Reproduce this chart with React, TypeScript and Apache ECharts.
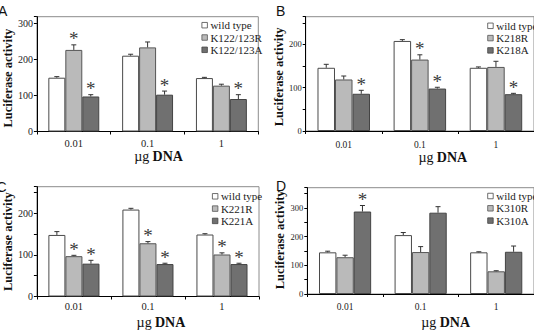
import React, { useEffect, useRef } from 'react';
import * as echarts from 'echarts';

// Plasmid DNA doses shared by every panel
const doseLabels = ['0.01', '0.1', '1'];

// Panel A: K122/123 mutants
const aNames = ['wild type', 'K122/123R', 'K122/123A'];
const aWildType = [149, 210, 148];
const aWildTypeErr = [3, 4, 2];
const aMutR = [226, 233, 127];
const aMutRErr = [14, 15, 4];
const aMutA = [97, 102, 90];
const aMutAErr = [5, 10, 12];
const aSigR = [true, false, false];
const aSigA = [true, true, true];

// Panel B: K218 mutants
const bNames = ['wild type', 'K218R', 'K218A'];
const bWildType = [146, 208, 146];
const bWildTypeErr = [8, 3, 2];
const bMutR = [119, 165, 148];
const bMutRErr = [8, 11, 13];
const bMutA = [86, 98, 85];
const bMutAErr = [8, 3, 2];
const bSigR = [false, true, false];
const bSigA = [true, true, true];

// Panel C: K221 mutants
const cNames = ['wild type', 'K221R', 'K221A'];
const cWildType = [148, 209, 149];
const cWildTypeErr = [8, 3, 2];
const cMutR = [97, 128, 101];
const cMutRErr = [2, 4, 4];
const cMutA = [79, 78, 78];
const cMutAErr = [8, 2, 2];
const cSigR = [true, true, true];
const cSigA = [true, true, true];

// Panel D: K310 mutants
const dNames = ['wild type', 'K310R', 'K310A'];
const dWildType = [145, 205, 145];
const dWildTypeErr = [4, 9, 2];
const dMutR = [128, 146, 79];
const dMutRErr = [7, 19, 2];
const dMutA = [287, 283, 147];
const dMutAErr = [21, 21, 20];
const dSigR = [false, false, false];
const dSigA = [true, false, false];

const noSig = [false, false, false];

const SERIF = '"Liberation Serif", "Times New Roman", serif';
const SANS = '"Liberation Sans", Arial, sans-serif';
const CAT_GAP = 0.31;

const barStyles = [
  { color: '#ffffff', borderColor: '#4a4a4a', borderWidth: 1 },
  { color: '#bababa', borderColor: '#555555', borderWidth: 1 },
  { color: '#707070', borderColor: '#444444', borderWidth: 1 },
];

type PanelData = {
  names: string[];
  values: number[][];
  errors: number[][];
  sig: boolean[][];
};

type PanelLayout = {
  left: number; top: number; width: number; height: number;
  yMax: number; yInterval: number; yTop: number;
  yFont: number; xFont: number; xMargin: number;
  yNameGap: number; yNamePad: number[];
  xNameGap: number; xNameShift: number;
  legendLeft: number; legendTop: number;
  letter: string; letterX: number; letterY: number;
};

const panels: PanelData[] = [
  { names: aNames, values: [aWildType, aMutR, aMutA], errors: [aWildTypeErr, aMutRErr, aMutAErr], sig: [noSig, aSigR, aSigA] },
  { names: bNames, values: [bWildType, bMutR, bMutA], errors: [bWildTypeErr, bMutRErr, bMutAErr], sig: [noSig, bSigR, bSigA] },
  { names: cNames, values: [cWildType, cMutR, cMutA], errors: [cWildTypeErr, cMutRErr, cMutAErr], sig: [noSig, cSigR, cSigA] },
  { names: dNames, values: [dWildType, dMutR, dMutA], errors: [dWildTypeErr, dMutRErr, dMutAErr], sig: [noSig, dSigR, dSigA] },
];

const layouts: PanelLayout[] = [
  { left: 29.5, top: 16.7, width: 228.8, height: 114.8, yMax: 318, yInterval: 100, yTop: 300,
    yFont: 10, xFont: 10.5, xMargin: 6, yNameGap: 19, yNamePad: [0, 8, 0, 0], xNameGap: 15, xNameShift: 11,
    legendLeft: 201.5, legendTop: 19.2, letter: 'A', letterX: -2, letterY: 10.5 },
  { left: 305.7, top: 16.7, width: 230, height: 114.3, yMax: 264, yInterval: 50, yTop: 250,
    yFont: 8.5, xFont: 9.5, xMargin: 9, yNameGap: 18, yNamePad: [0, 6, 0, 0], xNameGap: 18, xNameShift: 23,
    legendLeft: 487.3, legendTop: 19.8, letter: 'B', letterX: 276, letterY: 10.5 },
  { left: 29.3, top: 186.7, width: 229.7, height: 113.3, yMax: 264, yInterval: 50, yTop: 250,
    yFont: 10, xFont: 10.5, xMargin: 4.5, yNameGap: 19, yNamePad: [5, 0, 0, 0], xNameGap: 18.5, xNameShift: 13,
    legendLeft: 212, legendTop: 190.3, letter: 'C', letterX: -3.5, letterY: 186.5 },
  { left: 307.3, top: 187.7, width: 227.5, height: 109.6, yMax: 370, yInterval: 50, yTop: 350,
    yFont: 8.5, xFont: 9.5, xMargin: 7.5, yNameGap: 19, yNamePad: [0, 0, 0, 2], xNameGap: 21, xNameShift: 25,
    legendLeft: 487.3, legendTop: 190, letter: 'D', letterX: 276, letterY: 186 },
];

function buildOption(): echarts.EChartsOption {
  const grid: any[] = [];
  const xAxis: any[] = [];
  const yAxis: any[] = [];
  const legend: any[] = [];
  const series: any[] = [];
  const graphic: any[] = [];

  panels.forEach((p, i) => {
    const L = layouts[i];
    grid.push({
      left: L.left, top: L.top, width: L.width, height: L.height,
      show: true, borderColor: '#8c8c8c', borderWidth: 1, backgroundColor: 'transparent',
    });
    xAxis.push({
      type: 'category', gridIndex: i, data: doseLabels,
      axisLine: { lineStyle: { color: '#000', width: 1 } },
      axisTick: { show: true, length: 3, lineStyle: { color: '#000' } },
      axisLabel: { fontFamily: SERIF, fontSize: L.xFont, color: '#222', margin: L.xMargin },
      name: '{n|\u00b5g} {b|DNA}',
      nameLocation: 'middle', nameGap: L.xNameGap,
      nameTextStyle: {
        padding: [0, 0, 0, L.xNameShift * 2],
        rich: {
          n: { fontFamily: SERIF, fontSize: 14, color: '#111' },
          b: { fontFamily: SERIF, fontSize: 14, fontWeight: 'bold', color: '#111' },
        },
      },
    });
    yAxis.push({
      type: 'value', gridIndex: i, min: 0, max: L.yMax, interval: L.yInterval,
      axisLine: { show: true, lineStyle: { color: '#000', width: 1 } },
      axisTick: { show: true, length: 3, lineStyle: { color: '#000' } },
      splitLine: { show: false },
      axisLabel: {
        fontFamily: SERIF, fontSize: L.yFont, color: '#222', margin: 4,
        formatter: (v: number) => (v % 100 === 0 && v <= L.yTop ? String(v) : ''),
      },
      name: 'Luciferase activity', nameLocation: 'middle', nameGap: L.yNameGap,
      nameTextStyle: { fontFamily: SERIF, fontSize: 12.5, fontWeight: 'bold', color: '#111', padding: L.yNamePad },
    });
    legend.push({
      data: p.names, orient: 'vertical', left: L.legendLeft, top: L.legendTop,
      icon: 'rect', itemWidth: 5.5, itemHeight: 5.5, itemGap: 0.3, selectedMode: false,
      padding: 0,
      itemStyle: { borderWidth: 0.8 },
      textStyle: { fontFamily: SERIF, fontSize: 11, color: '#222', lineHeight: 12, padding: [0, 0, 0, -2] },
    });

    const errItems: number[][] = [];
    p.values.forEach((vals, s) => {
      series.push({
        type: 'bar', name: p.names[s], xAxisIndex: i, yAxisIndex: i,
        data: vals, barCategoryGap: `${CAT_GAP * 100}%`, barGap: '0%',
        itemStyle: barStyles[s],
      });
      vals.forEach((v, c) => {
        errItems.push([c, v, p.errors[s][c], p.sig[s][c] ? 1 : 0, s]);
      });
    });

    // Upper error whiskers with significance asterisks
    series.push({
      type: 'custom', xAxisIndex: i, yAxisIndex: i, silent: true, z: 5,
      data: errItems, encode: { x: 0, y: 1 },
      renderItem: (_params: any, api: any) => {
        const cat = api.value(0) as number;
        const v = api.value(1) as number;
        const e = api.value(2) as number;
        const sig = api.value(3) as number;
        const slot = api.value(4) as number;
        const catW = api.size([1, 0])[0] as number;
        const barW = (catW * (1 - CAT_GAP)) / 3;
        const base = api.coord([cat, v]);
        const tip = api.coord([cat, v + e]);
        const x = base[0] + (slot - 1) * barW;
        const stroke = { stroke: '#333', lineWidth: 1 };
        const children: any[] = [
          { type: 'line', shape: { x1: x, y1: base[1], x2: x, y2: tip[1] }, style: stroke },
          { type: 'line', shape: { x1: x - 2.5, y1: tip[1], x2: x + 2.5, y2: tip[1] }, style: stroke },
        ];
        if (sig) {
          children.push({
            type: 'text', x, y: tip[1] - 6,
            style: {
              text: '*', fontFamily: SERIF, fontSize: 19, fill: '#3a3a3a',
              textAlign: 'center', textVerticalAlign: 'middle',
            },
          });
        }
        return { type: 'group', children };
      },
    });

    // Panel letter
    graphic.push({
      type: 'text', x: L.letterX, y: L.letterY,
      style: {
        text: L.letter, fontFamily: SANS, fontSize: 14, fill: '#111',
        textAlign: 'left', textVerticalAlign: 'middle', align: 'left', verticalAlign: 'middle',
      },
    });
  });

  return { animation: false, backgroundColor: '#ffffff', grid, xAxis, yAxis, legend, series, graphic };
}

export default function App() {
  const ref = useRef<HTMLDivElement>(null);
  useEffect(() => {
    if (!ref.current) return;
    const chart = echarts.init(ref.current, undefined, { renderer: 'svg' });
    chart.setOption(buildOption());
    return () => chart.dispose();
  }, []);
  return (
    <div
      ref={ref}
      style={{ position: 'absolute', left: 0, top: 0, width: 534, height: 330 }}
    />
  );
}
